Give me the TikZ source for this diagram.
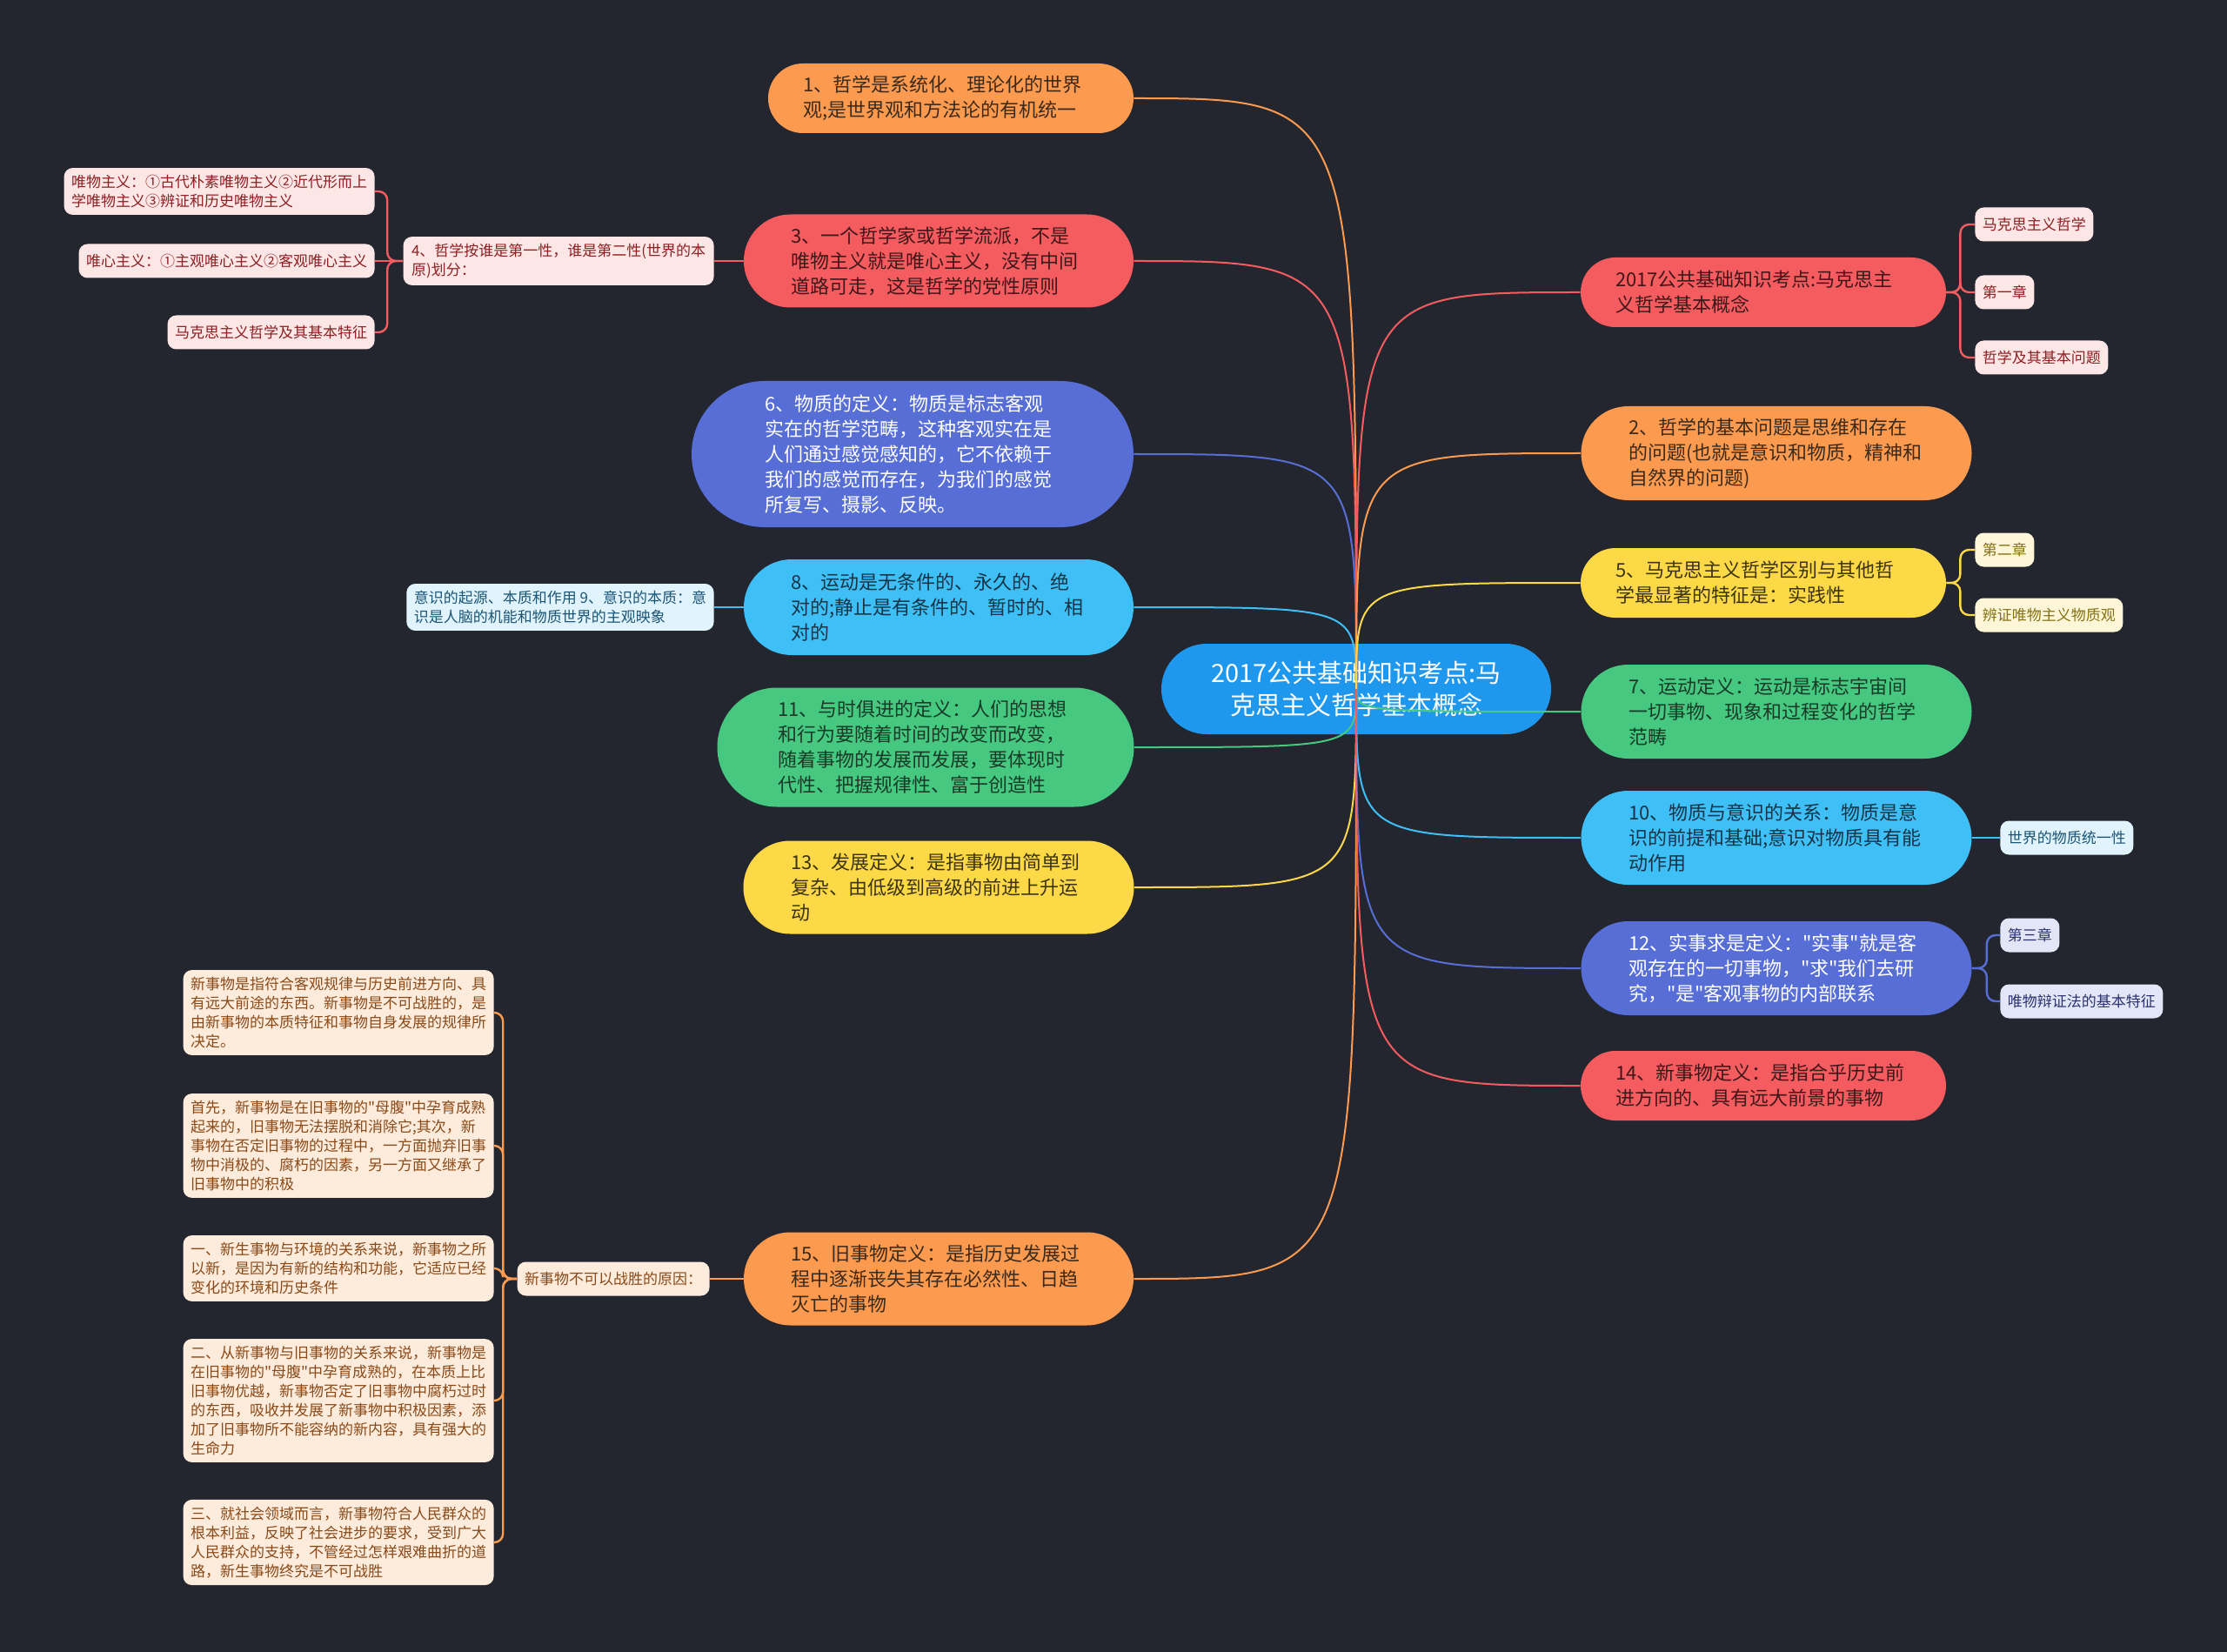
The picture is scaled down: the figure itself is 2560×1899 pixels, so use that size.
\documentclass[tikz,border=0pt]{standalone}
\usepackage{fontspec}
\newfontfamily\cjk{Noto Sans CJK SC}
\usetikzlibrary{shapes.misc}
\definecolor{bg}{HTML}{23262F}
\definecolor{rootblue}{HTML}{1E98EE}
\definecolor{orangeM}{HTML}{FC9A4F}
\definecolor{redM}{HTML}{F45C60}
\definecolor{purpleM}{HTML}{576ED6}
\definecolor{skyM}{HTML}{3EBFF6}
\definecolor{greenM}{HTML}{46C880}
\definecolor{yellowM}{HTML}{FDD947}
\definecolor{orangeT}{HTML}{3B2A1A}
\definecolor{redT}{HTML}{3F1719}
\definecolor{skyT}{HTML}{173447}
\definecolor{greenT}{HTML}{173B27}
\definecolor{yellowT}{HTML}{3C3410}
\definecolor{redF}{HTML}{FDE6E6}
\definecolor{redS}{HTML}{8E1F22}
\definecolor{orangeF}{HTML}{FDEBDC}
\definecolor{orangeS}{HTML}{8A4A18}
\definecolor{skyF}{HTML}{E1F4FD}
\definecolor{skyS}{HTML}{1B5575}
\definecolor{purpleF}{HTML}{E3E6F6}
\definecolor{purpleS}{HTML}{2A3270}
\definecolor{yellowF}{HTML}{FDF6D9}
\definecolor{yellowS}{HTML}{857212}

\begin{document}
\begin{tikzpicture}[
    x=0.5pt, y=-0.5pt,
    every node/.style={font=\cjk},
    rootnode/.style={rounded rectangle, fill=rootblue, text=white,
                     inner xsep=0pt, inner ysep=0pt, text width=172pt,
                     align=center, minimum height=52pt, minimum width=224pt,
                     font=\cjk\fontsize{14.5}{18.5}\selectfont},
    topic/.style={rounded rectangle, inner xsep=0pt, inner ysep=0pt,
                  text width=170pt, align=left,
                  font=\cjk\fontsize{11}{14.5}\selectfont},
    sub/.style={rounded corners=5pt, inner xsep=4.25pt, inner ysep=4pt,
                minimum height=19.5pt, align=left,
                font=\cjk\fontsize{8.5}{11}\selectfont},
    link/.style={line width=1pt},
    twig/.style={line width=1.2pt, rounded corners=5pt}
]

% ── Canvas ────────────────────────────────────────────────────────────────
\useasboundingbox (0,0) rectangle (2560,1899);
\fill[bg] (0,0) rectangle (2560,1899);

% ── Root ──────────────────────────────────────────────────────────────────
\node[rootnode] (root) at (1559,792)
      {2017公共基础知识考点:马\\克思主义哲学基本概念};

% ── Left topics ───────────────────────────────────────────────────────────
\node[topic, fill=orangeM, text=orangeT, minimum height=40pt, minimum width=210pt] (t1) at (1093,113)
      {1、哲学是系统化、理论化的世界\\观;是世界观和方法论的有机统一};
\node[topic, fill=redM, text=redT, minimum height=53.5pt, minimum width=224pt] (t3) at (1079,300)
      {3、一个哲学家或哲学流派，不是\\唯物主义就是唯心主义，没有中间\\道路可走，这是哲学的党性原则};
\node[topic, fill=purpleM, text=white, minimum height=84pt, minimum width=254pt] (t6) at (1049,522)
      {6、物质的定义：物质是标志客观\\实在的哲学范畴，这种客观实在是\\人们通过感觉感知的，它不依赖于\\我们的感觉而存在，为我们的感觉\\所复写、摄影、反映。};
\node[topic, fill=skyM, text=skyT, minimum height=55pt, minimum width=224pt] (t8) at (1079,698)
      {8、运动是无条件的、永久的、绝\\对的;静止是有条件的、暂时的、相\\对的};
\node[topic, fill=greenM, text=greenT, minimum height=68.5pt, minimum width=239.5pt] (t11) at (1064,859)
      {11、与时俱进的定义：人们的思想\\和行为要随着时间的改变而改变，\\随着事物的发展而发展，要体现时\\代性、把握规律性、富于创造性};
\node[topic, fill=yellowM, text=yellowT, minimum height=53.5pt, minimum width=224.5pt] (t13) at (1079,1020)
      {13、发展定义：是指事物由简单到\\复杂、由低级到高级的前进上升运\\动};
\node[topic, fill=orangeM, text=orangeT, minimum height=53.5pt, minimum width=224pt] (t15) at (1079,1470)
      {15、旧事物定义：是指历史发展过\\程中逐渐丧失其存在必然性、日趋\\灭亡的事物};

% ── Right topics ──────────────────────────────────────────────────────────
\node[topic, fill=redM, text=redT, minimum height=40pt, minimum width=210pt] (t0) at (2027,336)
      {2017公共基础知识考点:马克思主\\义哲学基本概念};
\node[topic, fill=orangeM, text=orangeT, minimum height=54pt, minimum width=224.5pt] (t2) at (2042,521)
      {2、哲学的基本问题是思维和存在\\的问题(也就是意识和物质，精神和\\自然界的问题)};
\node[topic, fill=yellowM, text=yellowT, minimum height=40pt, minimum width=210pt] (t5) at (2027,670)
      {5、马克思主义哲学区别与其他哲\\学最显著的特征是：实践性};
\node[topic, fill=greenM, text=greenT, minimum height=54pt, minimum width=224.5pt] (t7) at (2042,818)
      {7、运动定义：运动是标志宇宙间\\一切事物、现象和过程变化的哲学\\范畴};
\node[topic, fill=skyM, text=skyT, minimum height=54pt, minimum width=224.5pt] (t10) at (2042,963)
      {10、物质与意识的关系：物质是意\\识的前提和基础;意识对物质具有能\\动作用};
\node[topic, fill=purpleM, text=white, minimum height=54pt, minimum width=224.5pt] (t12) at (2042,1113)
      {12、实事求是定义："实事"就是客\\观存在的一切事物，"求"我们去研\\究，"是"客观事物的内部联系};
\node[topic, fill=redM, text=redT, minimum height=40pt, minimum width=210pt] (t14) at (2027,1248)
      {14、新事物定义：是指合乎历史前\\进方向的、具有远大前景的事物};

% ── Root → topics ─────────────────────────────────────────────────────────
\foreach \t/\c/\a in {t1/orangeM/east, t3/redM/east, t6/purpleM/east,
                      t8/skyM/east, t11/greenM/east, t13/yellowM/east,
                      t15/orangeM/east, t0/redM/west, t2/orangeM/west,
                      t5/yellowM/west, t7/greenM/west, t10/skyM/west,
                      t12/purpleM/west, t14/redM/west}
  \draw[link, \c] (root.center) .. controls (root.center |- \t.\a) .. (\t.\a);

% ── Topic 3 → division ────────────────────────────────────────────────────
\node[sub, fill=redF, text=redS, minimum width=178.5pt, anchor=east] (n4) at (821,300)
      {4、哲学按谁是第一性，谁是第二性(世界的本\\原)划分：};
\node[sub, fill=redF, text=redS, anchor=east] (m1) at (431,220)
      {唯物主义：①古代朴素唯物主义②近代形而上\\学唯物主义③辨证和历史唯物主义};
\node[sub, fill=redF, text=redS, anchor=east] (m2) at (431,300)
      {唯心主义：①主观唯心主义②客观唯心主义};
\node[sub, fill=redF, text=redS, anchor=east] (m3) at (431,382)
      {马克思主义哲学及其基本特征};
\draw[twig, redM] (t3.west) -- (n4.east);
\draw[twig, redM] (n4.west) -- ++(-18,0) |- (m1.east);
\draw[twig, redM] (n4.west) -- (m2.east);
\draw[twig, redM] (n4.west) -- ++(-18,0) |- (m3.east);

% ── Topic 8 → consciousness ───────────────────────────────────────────────
\node[sub, fill=skyF, text=skyS, anchor=east] (n9) at (821,698)
      {意识的起源、本质和作用 9、意识的本质：意\\识是人脑的机能和物质世界的主观映象};
\draw[twig, skyM] (t8.west) -- (n9.east);

% ── Topic 15 → reasons ────────────────────────────────────────────────────
\node[sub, fill=orangeF, text=orangeS, anchor=east] (why) at (816,1470)
      {新事物不可以战胜的原因：};
\node[sub, fill=orangeF, text=orangeS, anchor=east] (s1) at (568,1164)
      {新事物是指符合客观规律与历史前进方向、具\\有远大前途的东西。新事物是不可战胜的，是\\由新事物的本质特征和事物自身发展的规律所\\决定。};
\node[sub, fill=orangeF, text=orangeS, anchor=east] (s2) at (568,1317)
      {首先，新事物是在旧事物的"母腹"中孕育成熟\\起来的，旧事物无法摆脱和消除它;其次，新\\事物在否定旧事物的过程中，一方面抛弃旧事\\物中消极的、腐朽的因素，另一方面又继承了\\旧事物中的积极};
\node[sub, fill=orangeF, text=orangeS, anchor=east] (s3) at (568,1458)
      {一、新生事物与环境的关系来说，新事物之所\\以新，是因为有新的结构和功能，它适应已经\\变化的环境和历史条件};
\node[sub, fill=orangeF, text=orangeS, anchor=east] (s4) at (568,1610)
      {二、从新事物与旧事物的关系来说，新事物是\\在旧事物的"母腹"中孕育成熟的，在本质上比\\旧事物优越，新事物否定了旧事物中腐朽过时\\的东西，吸收并发展了新事物中积极因素，添\\加了旧事物所不能容纳的新内容，具有强大的\\生命力};
\node[sub, fill=orangeF, text=orangeS, anchor=east] (s5) at (568,1773)
      {三、就社会领域而言，新事物符合人民群众的\\根本利益，反映了社会进步的要求，受到广大\\人民群众的支持，不管经过怎样艰难曲折的道\\路，新生事物终究是不可战胜};
\draw[twig, orangeM] (t15.west) -- (why.east);
\foreach \s in {s1,s2,s3,s4,s5}
  \draw[twig, orangeM] (why.west) -- ++(-16,0) |- (\s.east);

% ── Right side leaves ─────────────────────────────────────────────────────
\node[sub, fill=redF, text=redS, anchor=west] (r1) at (2270,258) {马克思主义哲学};
\node[sub, fill=redF, text=redS, anchor=west] (r2) at (2270,336) {第一章};
\node[sub, fill=redF, text=redS, anchor=west] (r3) at (2270,411) {哲学及其基本问题};
\foreach \r in {r1,r2,r3}
  \draw[twig, redM] (t0.east) -- ++(16,0) |- (\r.west);

\node[sub, fill=yellowF, text=yellowS, anchor=west] (y1) at (2270,632) {第二章};
\node[sub, fill=yellowF, text=yellowS, anchor=west] (y2) at (2270,707) {辨证唯物主义物质观};
\foreach \r in {y1,y2}
  \draw[twig, yellowM] (t5.east) -- ++(16,0) |- (\r.west);

\node[sub, fill=skyF, text=skyS, anchor=west] (k1) at (2299,963) {世界的物质统一性};
\draw[twig, skyM] (t10.east) -- (k1.west);

\node[sub, fill=purpleF, text=purpleS, anchor=west] (p1) at (2299,1075) {第三章};
\node[sub, fill=purpleF, text=purpleS, anchor=west] (p2) at (2299,1151) {唯物辩证法的基本特征};
\foreach \r in {p1,p2}
  \draw[twig, purpleM] (t12.east) -- ++(17,0) |- (\r.west);

\end{tikzpicture}
\end{document}
